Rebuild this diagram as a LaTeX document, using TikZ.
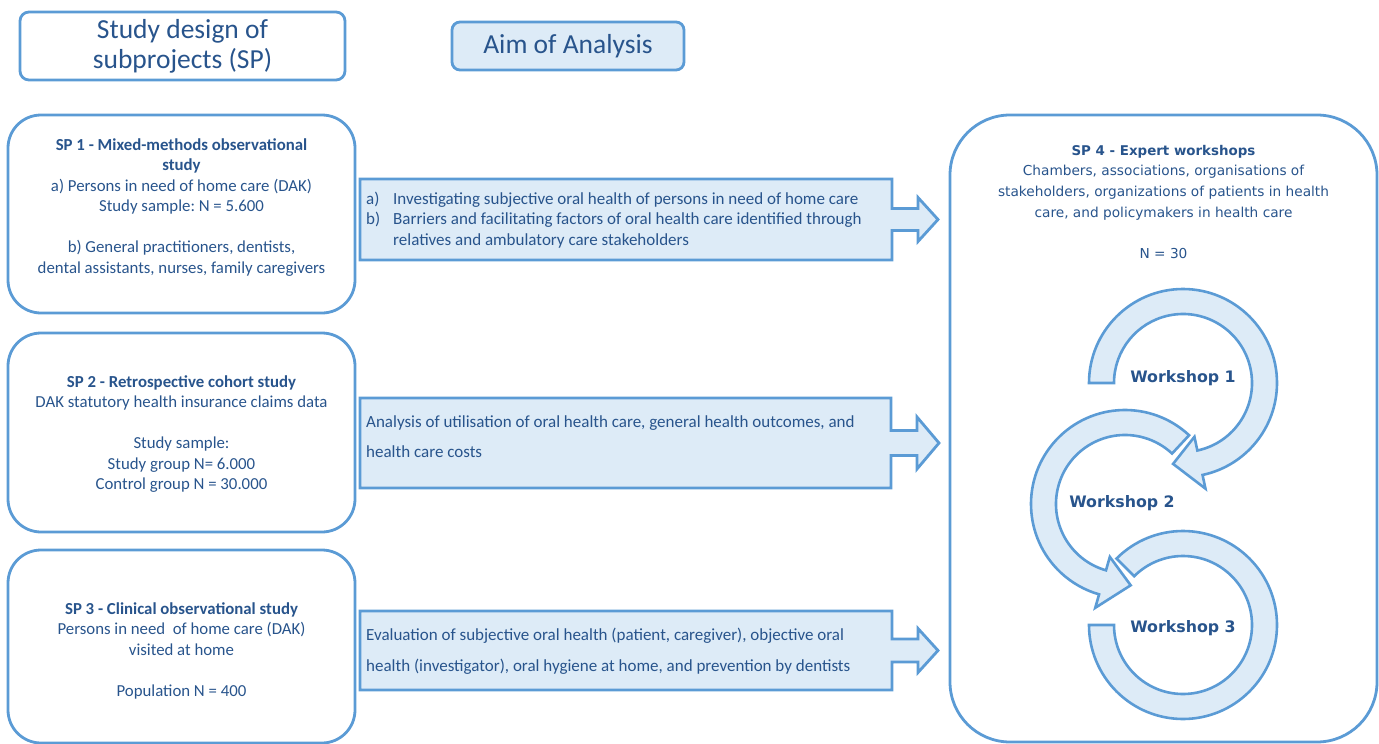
\documentclass[tikz,border=0pt]{standalone}
\usepackage{fontspec}
\setmainfont{Carlito}
\newfontfamily\vfont{DejaVu Sans}
\definecolor{tblue}{RGB}{40,84,140}
\definecolor{bblue}{RGB}{91,155,213}
\definecolor{lblue}{RGB}{221,235,247}
\frenchspacing
\begin{document}
\begin{tikzpicture}[x=1pt,y=-1pt,
  sbox/.style={draw=bblue,line width=2.8pt,rounded corners=33pt,inner sep=0pt},
  tbox/.style={draw=bblue,line width=2.8pt,rounded corners=9pt,inner sep=0pt},
  abody/.style={draw=bblue,fill=lblue,line width=2.8pt,line join=miter},
  ring/.style={draw=bblue,fill=lblue,line width=2.6pt,line join=miter},
  txt/.style={text=tblue,inner sep=0pt,align=center,font=\fontsize{16.8}{20.5}\selectfont},
  atxt/.style={text=tblue,inner sep=0pt,align=left,font=\fontsize{17}{20.5}\selectfont},
  vtxt/.style={text=tblue,inner sep=0pt,align=center,font=\vfont\fontsize{13.7}{20.7}\selectfont},
  wtxt/.style={text=tblue,inner sep=0pt,font=\vfont\bfseries\fontsize{15.8}{18}\selectfont}]
\useasboundingbox (0,0) rectangle (1379,744);

% header boxes
\node[tbox, minimum width=325pt, minimum height=68pt] (hd1) at (182.5,46) {};
\node[text=tblue, inner sep=0pt, align=center, font=\fontsize{27.5}{30}\selectfont] (hd1t) at (hd1.center) {Study design of\\subprojects (SP)};
\node[tbox, fill=lblue, minimum width=232pt, minimum height=48pt, rounded corners=8pt] (hd2) at (568,46) {};
\node[text=tblue, inner sep=0pt, font=\fontsize{27.5}{30}\selectfont] (hd2t) at (hd2.center) {Aim of Analysis};

% SP boxes
\node[sbox, minimum width=347pt, minimum height=198pt] (sp1) at (181.5,214) {};
\node[sbox, minimum width=347pt, minimum height=199pt] (sp2) at (181.5,432.5) {};
\node[sbox, minimum width=347pt, minimum height=193pt] (sp3) at (181.5,646.5) {};
\node[sbox, rounded corners=60pt, minimum width=427pt, minimum height=627pt] (sp4) at (1163.5,428.5) {};

\node[txt] (sp1t) at (181.5,207.5) {\textbf{SP 1 - Mixed-methods observational}\\\textbf{study}\\a) Persons in need of home care (DAK)\\Study sample: N = 5.600\\[20.5pt]b) General practitioners, dentists,\\dental assistants, nurses, family caregivers};
\node[txt] (sp2t) at (181.5,434) {\textbf{SP 2 - Retrospective cohort study}\\DAK statutory health insurance claims data\\[20.5pt]Study sample:\\Study group N= 6.000\\Control group N = 30.000};
\node[txt] (sp3t) at (181.5,650.5) {\textbf{SP 3 - Clinical observational study}\\Persons in need\ \ of home care (DAK)\\visited at home\\[20.5pt]Population N = 400};

% aim arrows (right arrow callouts)
\draw[abody] (360,179) -- (892,179) -- (892,208.5) -- (918,208.5) -- (918,197.5) -- (938,219.5) -- (918,241.5) -- (918,230.5) -- (892,230.5) -- (892,260) -- (360,260) -- cycle;
\draw[abody] (360,398) -- (891,398) -- (891,430.5) -- (917,430.5) -- (917,417) -- (939,443) -- (917,469) -- (917,455.5) -- (891,455.5) -- (891,488) -- (360,488) -- cycle;
\draw[abody] (360,611) -- (892,611) -- (892,639) -- (918,639) -- (918,628.5) -- (938,650.5) -- (918,672.5) -- (918,662) -- (892,662) -- (892,690) -- (360,690) -- cycle;

\node[atxt, anchor=west] (aim1) at (366,220.5) {\begin{tabular}{@{}l@{}l@{}}\makebox[27pt][l]{a)}&Investigating subjective oral health of persons in need of home care\\b)&Barriers and facilitating factors of oral health care identified through\\&relatives and ambulatory care stakeholders\end{tabular}};
\node[atxt, anchor=west, font=\fontsize{17}{30}\selectfont] (aim2) at (366,436.5) {Analysis of utilisation of oral health care, general health outcomes, and\\health care costs};
\node[atxt, anchor=west, font=\fontsize{17}{31}\selectfont] (aim3) at (366,651) {Evaluation of subjective oral health (patient, caregiver), objective oral\\health (investigator), oral hygiene at home, and prevention by dentists};

% SP4 text
\node[vtxt] (sp4t) at (1163.5,202) {{\bfseries\fontsize{13.4}{20.7}\selectfont SP 4 - Expert workshops}\\Chambers, associations, organisations of\\stakeholders, organizations of patients in health\\care, and policymakers in health care\\[20.7pt]N = 30};

% workshop cycle arrows
\coordinate (c1) at (1183,383);
\coordinate (c2) at (1125,504);
\coordinate (c3) at (1183,625);
\begin{scope}[shift={(c3)}]
\draw[ring] (135:94pt) arc[start angle=135, end angle=-180, radius=94pt] -- (-180:69pt) arc[start angle=-180, end angle=135, radius=69pt] -- cycle;
\end{scope}
\begin{scope}[shift={(c2)}]
\draw[ring] (47:94pt) arc[start angle=47, end angle=254, radius=94pt] -- (254:108pt) -- (274:81.5pt) -- (254:55pt) -- (254:69pt) arc[start angle=254, end angle=47, radius=69pt] -- cycle;
\end{scope}
\begin{scope}[shift={(c1)}]
\draw[ring] (180:94pt) arc[start angle=180, end angle=-78, radius=94pt] -- (-78:108pt) -- (-97:81.5pt) -- (-78:55pt) -- (-78:69pt) arc[start angle=-78, end angle=180, radius=69pt] -- cycle;
\end{scope}

\node[wtxt] (ws1) at (1183,378) {Workshop 1};
\node[wtxt] (ws2) at (1122,503) {Workshop 2};
\node[wtxt] (ws3) at (1183,628) {Workshop 3};
\end{tikzpicture}
\end{document}
